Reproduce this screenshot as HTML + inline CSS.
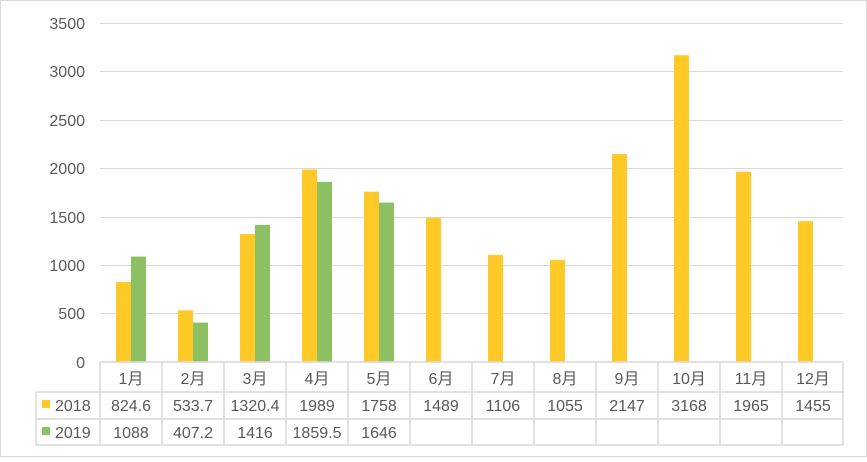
<!DOCTYPE html><html><head><meta charset="utf-8"><style>body{margin:0;background:#fff}</style></head><body>
<svg width="867" height="457" xmlns="http://www.w3.org/2000/svg" font-family="Liberation Sans, Noto Sans CJK SC, sans-serif" font-size="16" fill="#595959">
<rect x="0.5" y="0.5" width="866" height="456" fill="#fff" stroke="#d9d9d9"/>
<g stroke="#d9d9d9" stroke-width="1">
<line x1="100" x2="843" y1="23.5" y2="23.5"/><line x1="100" x2="843" y1="71.5" y2="71.5"/><line x1="100" x2="843" y1="120.5" y2="120.5"/><line x1="100" x2="843" y1="168.5" y2="168.5"/><line x1="100" x2="843" y1="217.5" y2="217.5"/><line x1="100" x2="843" y1="265.5" y2="265.5"/><line x1="100" x2="843" y1="313.5" y2="313.5"/>
</g>
<g text-anchor="end">
<text x="85" y="29">3500</text><text x="85" y="77">3000</text><text x="85" y="126">2500</text><text x="85" y="174">2000</text><text x="85" y="223">1500</text><text x="85" y="271">1000</text><text x="85" y="319">500</text><text x="85" y="368">0</text>
</g>
<g fill="#ffca28">
<rect x="116" y="282.1" width="15" height="79.9"/>
<rect x="178" y="310.3" width="15" height="51.7"/>
<rect x="240" y="234.1" width="15" height="127.9"/>
<rect x="302" y="169.4" width="15" height="192.6"/>
<rect x="364" y="191.7" width="15" height="170.3"/>
<rect x="426" y="217.8" width="15" height="144.2"/>
<rect x="488" y="254.9" width="15" height="107.1"/>
<rect x="550" y="259.8" width="15" height="102.2"/>
<rect x="612" y="154.1" width="15" height="207.9"/>
<rect x="674" y="55.2" width="15" height="306.8"/>
<rect x="736" y="171.7" width="15" height="190.3"/>
<rect x="798" y="221.1" width="15" height="140.9"/>
</g>
<g fill="#8dc063">
<rect x="131" y="256.6" width="15" height="105.4"/>
<rect x="193" y="322.6" width="15" height="39.4"/>
<rect x="255" y="224.9" width="15" height="137.1"/>
<rect x="317" y="181.9" width="15" height="180.1"/>
<rect x="379" y="202.6" width="15" height="159.4"/>
</g>
<g stroke="#d9d9d9" stroke-width="1.5" fill="none">
<line x1="100" x2="843" y1="362" y2="362"/><line x1="36" x2="843" y1="392" y2="392"/><line x1="36" x2="843" y1="419" y2="419"/><line x1="36" x2="843" y1="445" y2="445"/>
<line x1="36" x2="36" y1="392" y2="445"/>
<line x1="100" x2="100" y1="362" y2="445"/><line x1="162" x2="162" y1="362" y2="445"/><line x1="224" x2="224" y1="362" y2="445"/><line x1="286" x2="286" y1="362" y2="445"/><line x1="348" x2="348" y1="362" y2="445"/><line x1="410" x2="410" y1="362" y2="445"/><line x1="472" x2="472" y1="362" y2="445"/><line x1="534" x2="534" y1="362" y2="445"/><line x1="596" x2="596" y1="362" y2="445"/><line x1="658" x2="658" y1="362" y2="445"/><line x1="720" x2="720" y1="362" y2="445"/><line x1="782" x2="782" y1="362" y2="445"/><line x1="843" x2="843" y1="362" y2="445"/>
</g>
<rect x="42" y="400" width="8" height="8" fill="#ffca28"/><rect x="42" y="427" width="8" height="8" fill="#8dc063"/>
<text x="55" y="411">2018</text><text x="55" y="438">2019</text>
<g text-anchor="middle">
<text x="131" y="384">1月</text><text x="193" y="384">2月</text><text x="255" y="384">3月</text><text x="317" y="384">4月</text><text x="379" y="384">5月</text><text x="441" y="384">6月</text><text x="503" y="384">7月</text><text x="565" y="384">8月</text><text x="627" y="384">9月</text><text x="689" y="384">10月</text><text x="751" y="384">11月</text><text x="813" y="384">12月</text>
<text x="131" y="411">824.6</text><text x="193" y="411">533.7</text><text x="255" y="411">1320.4</text><text x="317" y="411">1989</text><text x="379" y="411">1758</text><text x="441" y="411">1489</text><text x="503" y="411">1106</text><text x="565" y="411">1055</text><text x="627" y="411">2147</text><text x="689" y="411">3168</text><text x="751" y="411">1965</text><text x="813" y="411">1455</text>
<text x="131" y="438">1088</text><text x="193" y="438">407.2</text><text x="255" y="438">1416</text><text x="317" y="438">1859.5</text><text x="379" y="438">1646</text>
</g>
</svg></body></html>
